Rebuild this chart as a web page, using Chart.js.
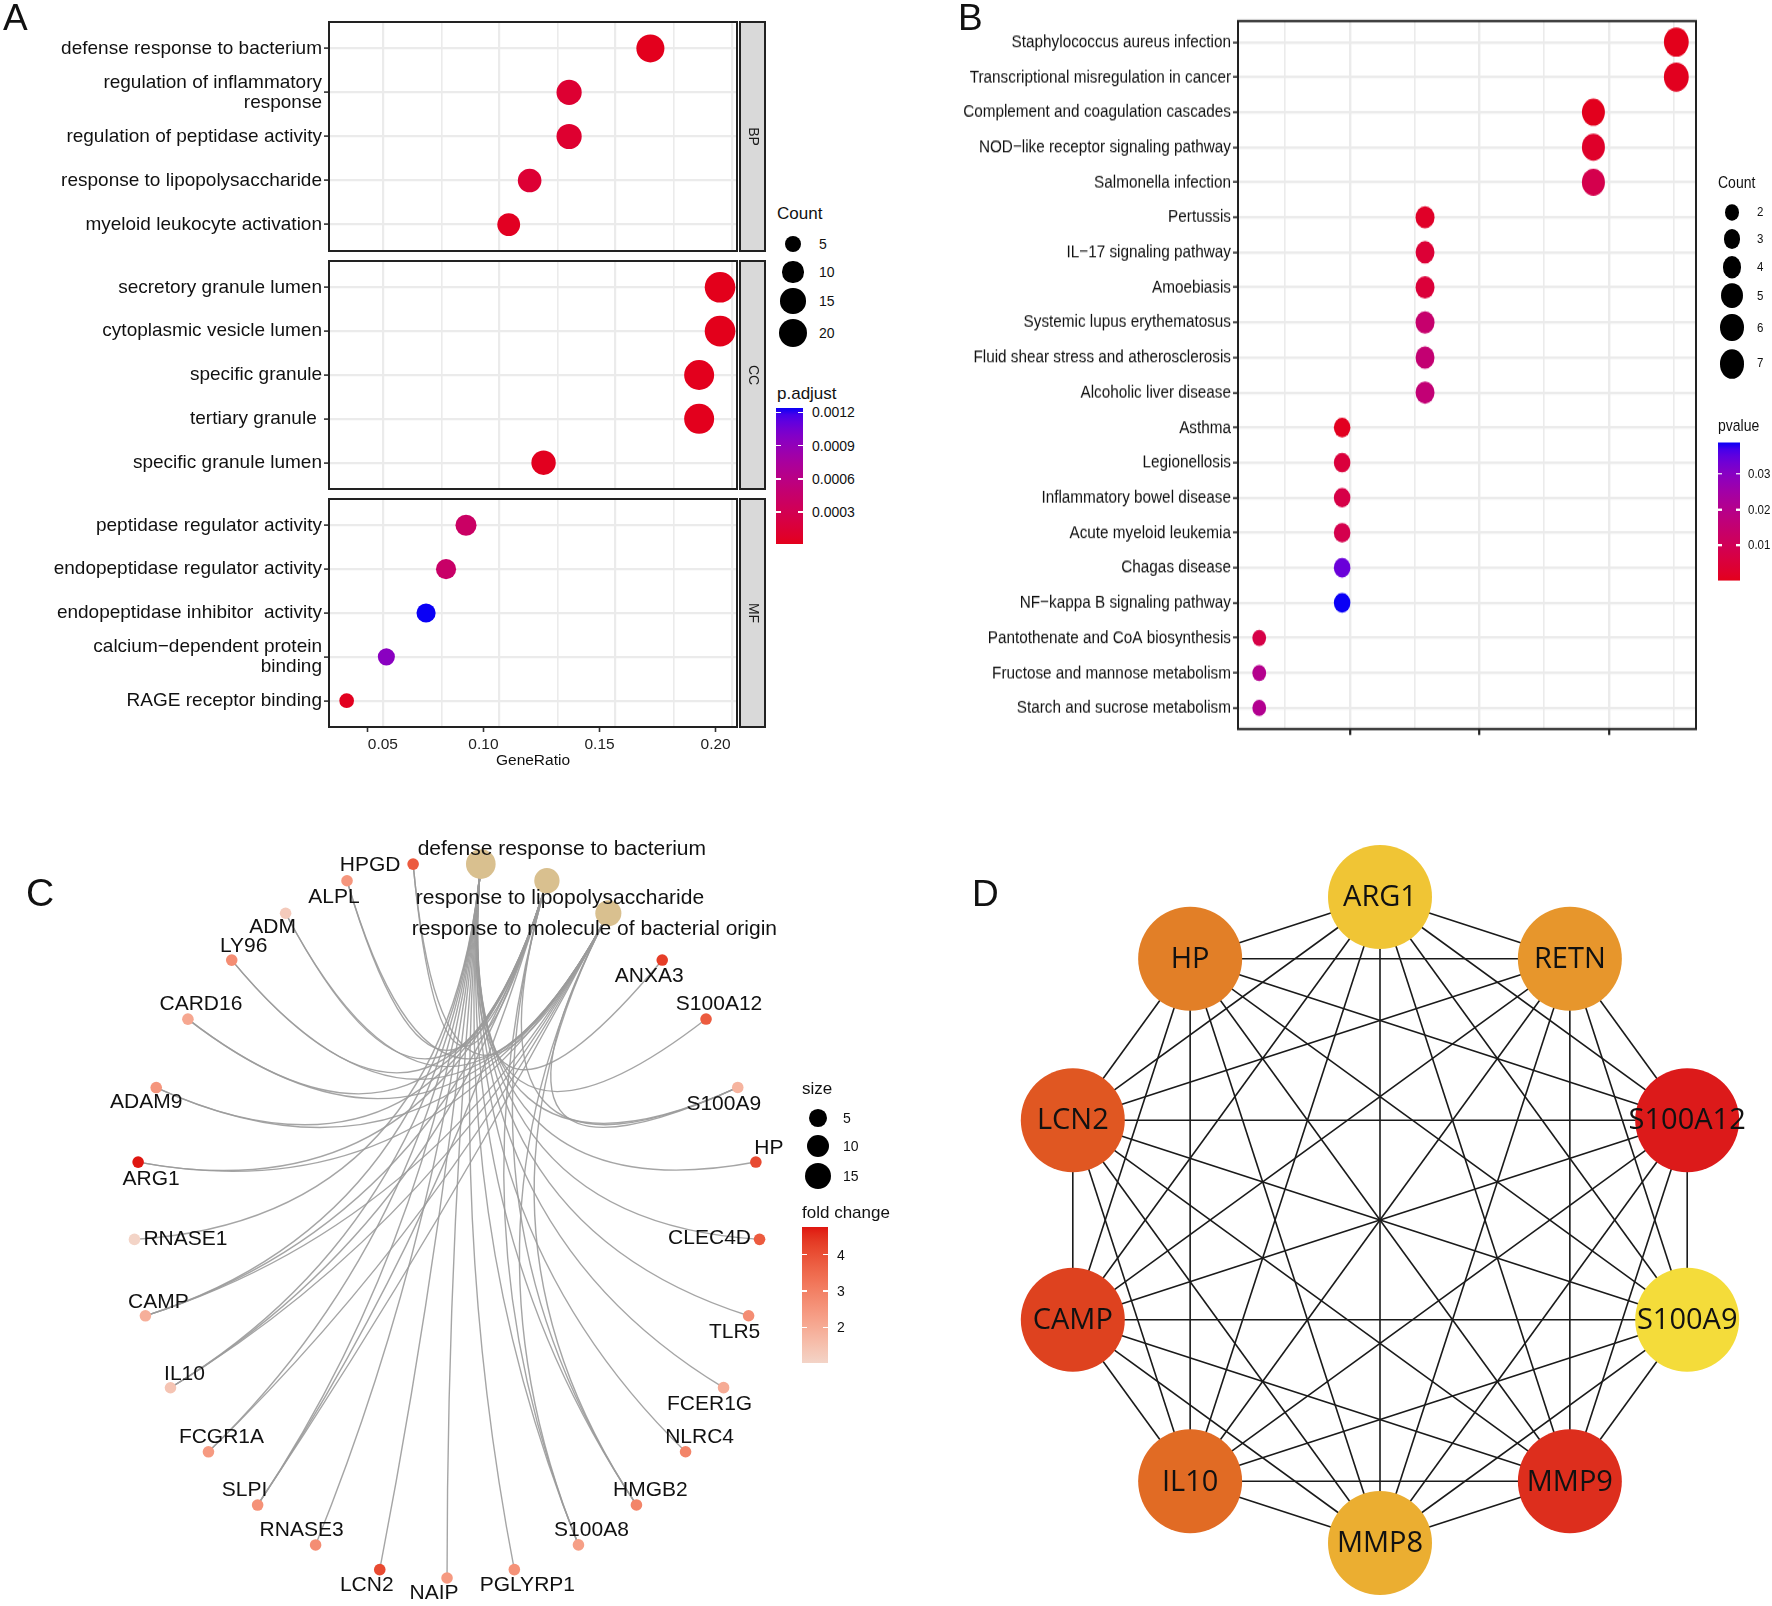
<!DOCTYPE html>
<html>
<head>
<meta charset="utf-8">
<title>Enrichment and hub genes</title>
<script src="https://cdn.jsdelivr.net/npm/chart.js@4.4.1/dist/chart.umd.min.js"></script>
<style>
  body { margin: 0; background: #fff; }
  #fig { position: relative; width: 1772px; height: 1606px; overflow: hidden; background: #fff;
         font-family: 'Liberation Sans', Arial, sans-serif; color: #111; }
  #fig canvas, #fig .el { position: absolute; }
  #panelB { position: absolute; left: 930px; top: 0; width: 842px; height: 629px; transform: scaleY(1.18); transform-origin: 0 0; }
</style>
</head>
<body>
<div id="fig">
  <canvas id="goBP" width="775" height="255" style="left:0;top:0"></canvas>
  <canvas id="goCC" width="775" height="240" style="left:0;top:255px"></canvas>
  <canvas id="goMF" width="775" height="280" style="left:0;top:495px"></canvas>
  <div id="panelB"><canvas id="kegg" width="780" height="629" style="left:0;top:0"></canvas></div>
  <canvas id="cnet" width="880" height="826" style="left:0;top:780px"></canvas>
  <canvas id="ppi" width="886" height="826" style="left:886px;top:780px"></canvas>
</div>
<script>
// ---------- A: GO enrichment, one facet per ontology ----------
const bpTerms = ["defense response to bacterium", "regulation of inflammatory\nresponse", "regulation of peptidase activity", "response to lipopolysaccharide", "myeloid leukocyte activation"];
const bpRatio = [0.165, 0.130, 0.130, 0.113, 0.104];
const bpCount = [19, 15, 15, 13, 12];
const bpPadj = [0.00002, 0.00012, 0.00011, 0.00013, 0.00004];

const ccTerms = ["secretory granule lumen", "cytoplasmic vesicle lumen", "specific granule", "tertiary granule ", "specific granule lumen"];
const ccRatio = [0.195, 0.195, 0.186, 0.186, 0.119];
const ccCount = [23, 23, 22, 22, 14];
const ccPadj = [0.000012, 0.000012, 0.00002, 0.00002, 0.00003];

const mfTerms = ["peptidase regulator activity", "endopeptidase regulator activity", "endopeptidase inhibitor  activity", "calcium\u2212dependent protein\nbinding", "RAGE receptor binding"];
const mfRatio = [0.0856, 0.0770, 0.0684, 0.0513, 0.0342];
const mfCount = [10, 9, 8, 6, 4];
const mfPadj = [0.00041, 0.00043, 0.00124, 0.00095, 0.00003];

const gridA = [0.05, 0.075, 0.1, 0.125, 0.15, 0.175, 0.2];
const ratioBreaksA = [0.05, 0.10, 0.15, 0.20];
const countBreaksA = [5, 10, 15, 20];
const padjBreaks = [0.0003, 0.0006, 0.0009, 0.0012];

// ---------- B: KEGG enrichment ----------
const keggTerms = ["Staphylococcus aureus infection", "Transcriptional misregulation in cancer", "Complement and coagulation cascades", "NOD\u2212like receptor signaling pathway", "Salmonella infection", "Pertussis", "IL\u221217 signaling pathway", "Amoebiasis", "Systemic lupus erythematosus", "Fluid shear stress and atherosclerosis", "Alcoholic liver disease", "Asthma", "Legionellosis", "Inflammatory bowel disease", "Acute myeloid leukemia", "Chagas disease", "NF\u2212kappa B signaling pathway", "Pantothenate and CoA biosynthesis", "Fructose and mannose metabolism", "Starch and sucrose metabolism"];
const keggCount = [7, 7, 6, 6, 6, 4, 4, 4, 4, 4, 4, 3, 3, 3, 3, 3, 3, 2, 2, 2];
const keggRatio = [0.226, 0.226, 0.194, 0.194, 0.194, 0.129, 0.129, 0.129, 0.129, 0.129, 0.129, 0.097, 0.097, 0.097, 0.097, 0.097, 0.097, 0.065, 0.065, 0.065];
const keggP = [0.0003, 0.0008, 0.0006, 0.0025, 0.0085, 0.0022, 0.0045, 0.005, 0.0145, 0.0155, 0.016, 0.001, 0.0055, 0.0075, 0.0085, 0.034, 0.0389, 0.0075, 0.0205, 0.021];
const gridB = [0.075, 0.1, 0.125, 0.15, 0.175, 0.2, 0.225];
const countBreaksB = [2, 3, 4, 5, 6, 7];
const pBreaks = [0.01, 0.02, 0.03];

// ---------- C: gene-concept network (ring order, clockwise from top) ----------
const cnetTerms = ["defense response to bacterium", "response to lipopolysaccharide", "response to molecule of bacterial origin"];
const cnetGenes = ["ANXA3", "S100A12", "S100A9", "HP", "CLEC4D", "TLR5", "FCER1G", "NLRC4", "HMGB2", "S100A8", "PGLYRP1", "NAIP", "LCN2", "RNASE3", "SLPI", "FCGR1A", "IL10", "CAMP", "RNASE1", "ARG1", "ADAM9", "CARD16", "LY96", "ADM", "ALPL", "HPGD"];
const geneFold = [4.3, 3.8, 1.8, 4.1, 3.8, 2.7, 2.0, 2.9, 2.9, 2.3, 2.6, 2.4, 4.1, 2.7, 2.6, 2.4, 1.4, 1.9, 1.02, 4.76, 2.5, 2.1, 2.7, 1.25, 2.5, 3.8];
const termGenes = [
  ["ANXA3", "S100A12", "S100A9", "HP", "CLEC4D", "TLR5", "FCER1G", "NLRC4", "HMGB2", "S100A8", "PGLYRP1", "NAIP", "LCN2", "RNASE3", "SLPI", "FCGR1A", "IL10", "CAMP", "RNASE1"],
  ["S100A9", "HMGB2", "S100A8", "SLPI", "IL10", "CAMP", "ARG1", "ADAM9", "CARD16", "LY96", "ADM", "ALPL", "HPGD"],
  ["S100A9", "HMGB2", "S100A8", "SLPI", "FCGR1A", "IL10", "CAMP", "ARG1", "ADAM9", "CARD16", "LY96", "ADM", "ALPL", "HPGD"]
];
const sizeBreaksC = [5, 10, 15];
const foldBreaks = [2, 3, 4];

// ---------- D: hub genes (ring order, clockwise from top) ----------
const hubGenes = ["ARG1", "RETN", "S100A12", "S100A9", "MMP9", "MMP8", "IL10", "CAMP", "LCN2", "HP"];
const hubRank = [9, 7, 1, 10, 2, 8, 5, 3, 4, 6];
const hubLinks = [
  ["ARG1", "RETN"], ["ARG1", "S100A12"], ["ARG1", "S100A9"], ["ARG1", "MMP9"], ["ARG1", "MMP8"], ["ARG1", "IL10"], ["ARG1", "CAMP"], ["ARG1", "LCN2"], ["ARG1", "HP"],
  ["RETN", "S100A12"], ["RETN", "S100A9"], ["RETN", "MMP9"], ["RETN", "MMP8"], ["RETN", "IL10"], ["RETN", "CAMP"], ["RETN", "LCN2"], ["RETN", "HP"],
  ["S100A12", "S100A9"], ["S100A12", "MMP9"], ["S100A12", "MMP8"], ["S100A12", "IL10"], ["S100A12", "CAMP"], ["S100A12", "LCN2"], ["S100A12", "HP"],
  ["S100A9", "MMP9"], ["S100A9", "MMP8"], ["S100A9", "IL10"], ["S100A9", "CAMP"], ["S100A9", "LCN2"], ["S100A9", "HP"],
  ["MMP9", "MMP8"], ["MMP9", "IL10"], ["MMP9", "CAMP"], ["MMP9", "LCN2"], ["MMP9", "HP"],
  ["MMP8", "IL10"], ["MMP8", "CAMP"], ["MMP8", "LCN2"], ["MMP8", "HP"],
  ["IL10", "CAMP"], ["IL10", "LCN2"], ["IL10", "HP"],
  ["CAMP", "LCN2"], ["CAMP", "HP"],
  ["LCN2", "HP"]
];

// ---------- helpers ----------
Chart.defaults.font.family = "'Liberation Sans', Arial, sans-serif";
Chart.defaults.animation = false;
Chart.defaults.responsive = false;
Chart.defaults.events = [];
Chart.defaults.layout.autoPadding = false;
Chart.defaults.plugins.legend.display = false;
Chart.defaults.plugins.tooltip.enabled = false;

const fig = document.getElementById("fig");
const panelB = document.getElementById("panelB");

function hexRgb(h) { return [1, 3, 5].map(i => parseInt(h.slice(i, i + 2), 16)); }
function toLab(rgb) {
  const l = rgb.map(v => { v /= 255; return v <= 0.04045 ? v / 12.92 : Math.pow((v + 0.055) / 1.055, 2.4); });
  const X = (l[0] * 0.4124 + l[1] * 0.3576 + l[2] * 0.1805) / 0.95047;
  const Y = l[0] * 0.2126 + l[1] * 0.7152 + l[2] * 0.0722;
  const Z = (l[0] * 0.0193 + l[1] * 0.1192 + l[2] * 0.9505) / 1.08883;
  const f = t => t > 0.008856 ? Math.cbrt(t) : 7.787 * t + 16 / 116;
  return [116 * f(Y) - 16, 500 * (f(X) - f(Y)), 200 * (f(Y) - f(Z))];
}
function fromLab(lab) {
  const fy = (lab[0] + 16) / 116, fx = fy + lab[1] / 500, fz = fy - lab[2] / 200;
  const g = t => t * t * t > 0.008856 ? t * t * t : (t - 16 / 116) / 7.787;
  const X = g(fx) * 0.95047, Y = g(fy), Z = g(fz) * 1.08883;
  const lin = [X * 3.2406 - Y * 1.5372 - Z * 0.4986, -X * 0.9689 + Y * 1.8758 + Z * 0.0415, X * 0.0557 - Y * 0.2040 + Z * 1.0570];
  return lin.map(v => {
    v = v <= 0.0031308 ? 12.92 * v : 1.055 * Math.pow(Math.max(v, 0), 1 / 2.4) - 0.055;
    return Math.round(Math.min(1, Math.max(0, v)) * 255);
  });
}
function labRamp(lo, hi) {
  const a = toLab(hexRgb(lo)), b = toLab(hexRgb(hi));
  return t => {
    t = Math.min(1, Math.max(0, t));
    return "rgb(" + fromLab(a.map((v, i) => v + (b[i] - v) * t)).join(",") + ")";
  };
}
const rampRB = labRamp("#E3001B", "#0A00F5");
const rampFold = labRamp("#F3D4C7", "#DF1610");

function hubColor(rank) {
  const t = (rank - 1) / (hubGenes.length - 1);
  const stops = [[0, [220, 26, 26]], [5 / 9, [226, 127, 39]], [1, [244, 220, 58]]];
  const k = t <= stops[1][0] ? 0 : 1;
  const s = (t - stops[k][0]) / (stops[k + 1][0] - stops[k][0]);
  return "rgb(" + stops[k][1].map((v, i) => Math.round(v + (stops[k + 1][1][i] - v) * s)).join(",") + ")";
}

const isMajor = v => Math.abs(v / 0.05 - Math.round(v / 0.05)) < 1e-6;
const rA = c => Math.sqrt(16 + 9.5 * c);
const wB = c => Math.sqrt(20 + 85 * c);
const rC = c => Math.sqrt(120 + 40 * c) / 2;

function texto(x, y, str, size, pai) {
  const d = document.createElement("div");
  d.className = "el";
  d.textContent = str;
  d.style.cssText += `left:${x}px;top:${y}px;font-size:${size}px;line-height:1;white-space:pre;transform:translateY(-50%);`;
  (pai || fig).appendChild(d);
  return d;
}
function etiqueta(x, y, str, size) {
  const d = texto(x, y, str, size);
  d.style.transform = "none";
  return d;
}
function bola(cx, cy, w, h, cor, pai) {
  const d = document.createElement("div");
  d.className = "el";
  d.style.cssText += `left:${cx - w / 2}px;top:${cy - h / 2}px;width:${w}px;height:${h}px;border-radius:50%;background:${cor};`;
  (pai || fig).appendChild(d);
}
function barra(x, y, w, h, ramp, min, max, breaks, fmt, labelX, size, pai) {
  pai = pai || fig;
  const d = document.createElement("div");
  d.className = "el";
  const stops = [];
  for (let i = 0; i <= 20; i++) stops.push(ramp(1 - i / 20) + " " + (i * 5) + "%");
  d.style.cssText += `left:${x}px;top:${y}px;width:${w}px;height:${h}px;background:linear-gradient(to bottom, ${stops.join(",")});`;
  pai.appendChild(d);
  breaks.forEach(b => {
    const yy = y + h - (b - min) / (max - min) * h;
    [x, x + w - w / 5].forEach(xx => {
      const t = document.createElement("div");
      t.className = "el";
      t.style.cssText += `left:${xx}px;top:${yy - 0.75}px;width:${w / 5}px;height:1.5px;background:#fff;`;
      pai.appendChild(t);
    });
    texto(labelX, yy, fmt(b), size, pai);
  });
}

// frame around the panel and the facet strip on its right
const framePlugin = {
  id: "frame",
  afterDraw(chart, args, opts) {
    const a = chart.chartArea, g = chart.ctx;
    g.save();
    g.strokeStyle = "#222";
    g.lineWidth = 2;
    g.strokeRect(a.left, a.top, a.right - a.left, a.bottom - a.top);
    if (opts.strip) {
      g.fillStyle = "#D9D9D9";
      g.fillRect(a.right + 3, a.top, 25, a.bottom - a.top);
      g.strokeRect(a.right + 3, a.top, 25, a.bottom - a.top);
      g.translate(a.right + 15.5, (a.top + a.bottom) / 2);
      g.rotate(Math.PI / 2);
      g.fillStyle = "#1A1A1A";
      g.font = "14px 'Liberation Sans', Arial, sans-serif";
      g.textAlign = "center";
      g.textBaseline = "middle";
      g.fillText(opts.strip, 0, 0);
    }
    g.restore();
  }
};

// ---------- A ----------
const xMinA = 0.0266, xMaxA = 0.2023, shiftA = 0.00689;
const allPadj = bpPadj.concat(ccPadj, mfPadj);
const padjMin = Math.min(...allPadj), padjMax = Math.max(...allPadj);

function facet(id, terms, ratio, count, padj, strip, pad, comEixo) {
  const scales = {
    x: {
      type: "linear", min: xMinA, max: xMaxA,
      afterBuildTicks: s => { s.ticks = gridA.map(v => ({ value: v })); },
      afterFit: s => { s.height = 0; s.paddingLeft = 0; s.paddingRight = 0; },
      ticks: { display: false },
      border: { display: false },
      grid: { color: "#EBEBEB", lineWidth: c => isMajor(c.tick.value) ? 2.2 : 1.6, drawTicks: false }
    },
    y: {
      type: "linear", reverse: true, min: -0.6, max: terms.length - 0.4,
      afterBuildTicks: s => { s.ticks = terms.map((_, i) => ({ value: i })); },
      afterFit: s => { s.width = 329; s.paddingTop = 0; s.paddingBottom = 0; },
      border: { display: false },
      grid: { color: "#EBEBEB", lineWidth: 2.2, tickLength: 5, tickColor: "#333", tickWidth: 1.6 },
      ticks: { autoSkip: false, padding: 2, color: "#111", font: { size: 19, lineHeight: 1.05 }, callback: v => terms[v].split("\n") }
    }
  };
  if (comEixo) {
    scales.x2 = {
      type: "linear", position: "bottom", min: xMinA + shiftA, max: xMaxA + shiftA,
      afterBuildTicks: s => { s.ticks = ratioBreaksA.map(v => ({ value: v })); },
      afterFit: s => { s.height = 48; s.paddingLeft = 0; s.paddingRight = 0; },
      border: { display: false },
      grid: { drawOnChartArea: false, drawTicks: true, tickLength: 5, tickColor: "#333", tickWidth: 1.6 },
      ticks: {
        padding: 3, color: "#222", font: { size: 15.5 }, maxRotation: 0, autoSkip: false,
        callback: v => (v === 0.05 ? "\u2002\u2002\u2002\u2002" : "") + v.toFixed(2)
      },
      title: { display: true, text: "GeneRatio", color: "#111", font: { size: 15.5 }, padding: { top: 0, bottom: 5 } }
    };
  }
  new Chart(document.getElementById(id), {
    type: "scatter",
    data: {
      datasets: [{
        data: ratio.map((r, i) => ({ x: r, y: i })),
        pointRadius: c => rA(count[c.dataIndex]),
        pointBackgroundColor: c => rampRB((padj[c.dataIndex] - padjMin) / (padjMax - padjMin)),
        pointBorderWidth: 0
      }]
    },
    options: { layout: { padding: pad }, scales, plugins: { frame: { strip } } },
    plugins: [framePlugin]
  });
}

facet("goBP", bpTerms, bpRatio, bpCount, bpPadj, "BP", { top: 22, right: 38, bottom: 4, left: 0 }, false);
facet("goCC", ccTerms, ccRatio, ccCount, ccPadj, "CC", { top: 6, right: 38, bottom: 6, left: 0 }, false);
facet("goMF", mfTerms, mfRatio, mfCount, mfPadj, "MF", { top: 4, right: 38, bottom: 0, left: 0 }, true);

texto(777, 213, "Count", 17);
[244, 272, 301, 333].forEach((y, i) => {
  const r = rA(countBreaksA[i]);
  bola(793, y, 2 * r, 2 * r, "#000");
  texto(819, y, String(countBreaksA[i]), 14);
});
texto(777, 393, "p.adjust", 17);
barra(776, 408, 27, 136, rampRB, padjMin, padjMax, padjBreaks, v => v.toFixed(4), 812, 14);

// ---------- B (the panel is stretched vertically, as in the source figure) ----------
const pMin = Math.min(...keggP), pMax = Math.max(...keggP);
const esticaB = 1.18, leftB = 930;

new Chart(document.getElementById("kegg"), {
  type: "scatter",
  data: {
    datasets: [{
      data: keggRatio.map((r, i) => ({ x: r, y: i })),
      pointRadius: c => wB(keggCount[c.dataIndex]) / 2,
      pointBackgroundColor: c => rampRB((keggP[c.dataIndex] - pMin) / (pMax - pMin)),
      pointBorderWidth: 0
    }]
  },
  options: {
    layout: { padding: { top: 17.8, right: 14, bottom: 5.2, left: 0 } },
    scales: {
      x: {
        type: "linear", min: 0.0568, max: 0.2336,
        afterBuildTicks: s => { s.ticks = gridB.map(v => ({ value: v })); },
        afterFit: s => { s.height = 6; s.paddingLeft = 0; s.paddingRight = 0; },
        ticks: { display: false },
        border: { display: false },
        grid: {
          color: "#EBEBEB", lineWidth: c => isMajor(c.tick.value) ? 2.4 : 1.6,
          tickLength: 5, tickWidth: 2.2, tickColor: c => isMajor(c.tick.value) ? "#222" : "rgba(0,0,0,0)"
        }
      },
      y: {
        type: "linear", reverse: true, min: -0.6, max: keggTerms.length - 0.4,
        afterBuildTicks: s => { s.ticks = keggTerms.map((_, i) => ({ value: i })); },
        afterFit: s => { s.width = 1238 - leftB; s.paddingTop = 0; s.paddingBottom = 0; },
        border: { display: false },
        grid: { color: "#EBEBEB", lineWidth: 2.2, tickLength: 5, tickColor: "#333", tickWidth: 1.6 },
        ticks: { autoSkip: false, padding: 2, color: "#111", font: { size: 15.3 }, callback: v => keggTerms[v] }
      }
    },
    plugins: { frame: {} }
  },
  plugins: [framePlugin]
});

texto(1718 - leftB, 182 / esticaB, "Count", 14, panelB);
[212, 239, 267, 296, 328, 364].forEach((y, i) => {
  const w = wB(countBreaksB[i]);
  bola(1732 - leftB, y / esticaB, w, w, "#000", panelB);
  texto(1757 - leftB, y / esticaB, String(countBreaksB[i]), 11.5, panelB);
});
texto(1718 - leftB, 425 / esticaB, "pvalue", 14, panelB);
barra(1718 - leftB, 442 / esticaB, 22, 138 / esticaB, rampRB, pMin, pMax, pBreaks, v => v.toFixed(2), 1748 - leftB, 11.5, panelB);

// ---------- C ----------
const cnetNames = cnetTerms.concat(cnetGenes);
const ringStart = 6.2 * Math.PI / 180;
const ringStep = 2 * Math.PI / cnetNames.length;
const foldMin = Math.min(...geneFold), foldMax = Math.max(...geneFold);
const labelNudge = {
  "defense response to bacterium": [81, -15], "response to lipopolysaccharide": [13, 17], "response to molecule of bacterial origin": [-14, 16],
  ANXA3: [-13, 16], S100A12: [13, -15], S100A9: [-14, 17], HP: [13, -14], CLEC4D: [-50, -1], TLR5: [-14, 16],
  FCER1G: [-14, 17], NLRC4: [14, -15], HMGB2: [14, -15], S100A8: [13, -15], PGLYRP1: [13, 16], NAIP: [-13, 15],
  LCN2: [-13, 16], RNASE3: [-14, -15], SLPI: [-13, -15], FCGR1A: [13, -15], IL10: [14, -14], CAMP: [13, -14],
  RNASE1: [51, 0], ARG1: [13, 17], ADAM9: [-10, 15], CARD16: [13, -15], LY96: [12, -14], ADM: [-13, 14],
  ALPL: [-13, 16], HPGD: [-43, 1]
};

const cnetPlugin = {
  id: "cnet",
  beforeDatasetsDraw(chart) {
    const g = chart.ctx, pts = chart.getDatasetMeta(0).data;
    const cx = chart.scales.x.getPixelForValue(0), cy = chart.scales.y.getPixelForValue(0);
    g.save();
    g.strokeStyle = "rgba(155,155,155,0.9)";
    g.lineWidth = 1.4;
    termGenes.forEach((genes, t) => genes.forEach(name => {
      const a = pts[cnetNames.indexOf(name)], b = pts[t];
      g.beginPath();
      g.moveTo(a.x, a.y);
      g.quadraticCurveTo(cx, cy, b.x, b.y);
      g.stroke();
    }));
    g.restore();
  },
  afterDatasetsDraw(chart) {
    const g = chart.ctx, pts = chart.getDatasetMeta(0).data;
    g.save();
    g.fillStyle = "#111";
    g.font = "21px 'Liberation Sans', Arial, sans-serif";
    g.textAlign = "center";
    g.textBaseline = "middle";
    cnetNames.forEach((name, i) => {
      const n = labelNudge[name] || [0, 0];
      g.fillText(name, pts[i].x + n[0], pts[i].y + n[1]);
    });
    g.restore();
  }
};

new Chart(document.getElementById("cnet"), {
  type: "scatter",
  data: {
    datasets: [{
      data: cnetNames.map((_, i) => ({ x: Math.sin(ringStart + i * ringStep), y: Math.cos(ringStart + i * ringStep) })),
      pointRadius: c => c.dataIndex < cnetTerms.length ? rC(termGenes[c.dataIndex].length) : 5.8,
      pointBackgroundColor: c => c.dataIndex < cnetTerms.length ? "#D9C08F"
        : rampFold((geneFold[c.dataIndex - cnetTerms.length] - foldMin) / (foldMax - foldMin)),
      pointBorderWidth: 0
    }]
  },
  options: {
    layout: { padding: 0 },
    scales: {
      x: { display: false, type: "linear", min: -447 / 313, max: (880 - 447) / 313 },
      y: { display: false, type: "linear", min: -(826 - 440) / 358, max: 440 / 358 }
    }
  },
  plugins: [cnetPlugin]
});

texto(802, 1088, "size", 17);
[1118, 1146, 1176].forEach((y, i) => {
  const r = rC(sizeBreaksC[i]);
  bola(818, y, 2 * r, 2 * r, "#000");
  texto(843, y, String(sizeBreaksC[i]), 14);
});
texto(802, 1212, "fold change", 17);
barra(802, 1227, 26, 136, rampFold, foldMin, foldMax, foldBreaks, v => String(v), 837, 14);

// ---------- D ----------
const hubPlugin = {
  id: "hub",
  beforeDatasetsDraw(chart) {
    const g = chart.ctx, pts = chart.getDatasetMeta(0).data;
    g.save();
    g.strokeStyle = "#1A1A1A";
    g.lineWidth = 1.6;
    hubLinks.forEach(([a, b]) => {
      const p = pts[hubGenes.indexOf(a)], q = pts[hubGenes.indexOf(b)];
      g.beginPath();
      g.moveTo(p.x, p.y);
      g.lineTo(q.x, q.y);
      g.stroke();
    });
    g.restore();
  },
  afterDatasetsDraw(chart) {
    const g = chart.ctx, pts = chart.getDatasetMeta(0).data;
    g.save();
    g.fillStyle = "#111";
    g.font = "29px 'Open Sans', 'Liberation Sans', sans-serif";
    g.textAlign = "center";
    g.textBaseline = "middle";
    hubGenes.forEach((name, i) => g.fillText(name, pts[i].x, pts[i].y + 1));
    g.restore();
  }
};

new Chart(document.getElementById("ppi"), {
  type: "scatter",
  data: {
    datasets: [{
      data: hubGenes.map((_, i) => ({ x: Math.sin(i * 2 * Math.PI / hubGenes.length), y: Math.cos(i * 2 * Math.PI / hubGenes.length) })),
      pointRadius: 52,
      pointBackgroundColor: c => hubColor(hubRank[c.dataIndex]),
      pointBorderWidth: 0
    }]
  },
  options: {
    layout: { padding: 0 },
    scales: {
      x: { display: false, type: "linear", min: -494 / 323, max: (886 - 494) / 323 },
      y: { display: false, type: "linear", min: -(826 - 440) / 323, max: 440 / 323 }
    }
  },
  plugins: [hubPlugin]
});

// panel letters
etiqueta(3, -1, "A", 37);
etiqueta(958, -1, "B", 37);
etiqueta(26, 873, "C", 39);
etiqueta(972, 875, "D", 37);
</script>
</body>
</html>
